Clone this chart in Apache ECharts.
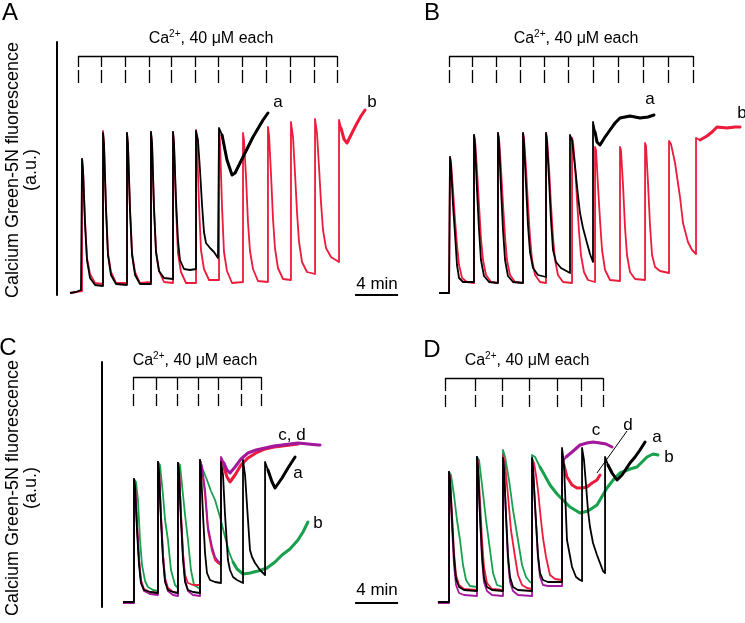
<!DOCTYPE html>
<html><head><meta charset="utf-8">
<script src="https://cdn.jsdelivr.net/npm/echarts/dist/echarts.min.js"></script>
<style>html,body{margin:0;padding:0;background:#fff}#c{width:745px;height:623px}</style>
</head><body><div id="c"></div>
<script>
// ---------- data (time in min, fluorescence in a.u.) ----------
const caTimesA = [1.67, 3.81, 6.05, 8.28, 10.32, 12.56, 14.69, 16.93, 19.16, 21.39, 23.62, 25.76];
const caTimesB = [3.63, 5.77, 8.00, 10.23, 12.46, 14.69, 17.02, 19.34, 21.67, 23.99, 26.32];
const caTimesC = [6.79, 8.93, 10.88, 12.83, 14.69, 16.83, 18.69];
const caTimesD = [3.26, 6.05, 8.56, 11.07, 13.67, 15.90, 17.95];
const scaleBarMinutes = 4;

const A_red = [[0.93,7],[1.49,8],[2.05,9],[2.05,141],[2.14,131],[2.33,79],[2.51,42],[2.79,26],[3.26,17],
[4.00,16],[4.00,169],[4.09,157],[4.28,93],[4.46,47],[4.74,28],[5.21,17],
[6.23,17],[6.23,167],[6.32,155],[6.51,92],[6.70,47],[6.98,28],[7.44,17],
[8.46,18],[8.46,168],[8.56,156],[8.74,93],[8.93,48],[9.21,29],[9.67,18],
[10.51,17],[10.51,168],[10.60,156],[10.79,92],[10.97,47],[11.25,28],[11.72,17],
[12.65,17],[12.65,170],[12.74,158],[12.93,95],[13.11,50],[13.39,31],[13.86,20],
[14.79,20],[14.79,170],[14.88,158],[15.07,93],[15.25,48],[15.53,29],[16.00,17],
[17.02,18],[17.02,167],[17.11,160],[17.30,123],[17.48,78],[17.67,49],[17.95,31],[18.41,19],
[19.34,18],[19.34,173],[19.44,165],[19.62,127],[19.81,81],[20.00,51],[20.27,32],[20.74,21],
[21.48,20],[21.48,178],[21.67,163],[21.86,126],[22.04,88],[22.23,58],[22.51,38],[22.97,28],
[23.72,26],[23.72,181],[23.90,167],[24.09,133],[24.27,98],[24.46,70],[24.74,52],[25.20,43],
[25.95,38],[25.95,180],[26.13,172],[26.41,161],[26.69,157],[27.06,165],[27.53,175],[27.99,184],[28.37,190]];
const A_black = [[0.93,7],[1.49,8],[1.95,10],[2.05,10],[2.05,141],[2.14,130],[2.33,75],[2.51,40],[2.79,22],[3.26,15],
[4.00,14],[4.00,167],[4.09,156],[4.28,90],[4.46,45],[4.74,25],[5.21,16],
[6.23,15],[6.23,167],[6.32,156],[6.51,90],[6.70,45],[6.98,25],[7.44,16],
[8.46,16],[8.46,168],[8.56,157],[8.74,92],[8.93,48],[9.21,29],[9.67,22],
[10.51,21],[10.51,168],[10.60,157],[10.79,100],[10.97,60],[11.16,40],[11.53,31],[12.09,30],
[12.65,31],[12.65,169],[12.83,160],[13.02,130],[13.21,95],[13.39,68],[13.58,57],[13.95,52],[14.32,48],[14.69,42],
[14.79,42],[14.79,172],[15.07,165],[15.53,140],[16.00,125],[16.28,127],[17.02,143],[17.95,163],[18.88,180],[19.34,187]];

const B_red = [[2.70,7],[3.63,7],[3.72,8],[3.72,143],[3.81,138],[4.00,110],[4.19,80],[4.37,55],[4.56,35],[4.84,22],[5.30,18],
[5.95,17],[5.95,165],[6.05,160],[6.23,130],[6.42,95],[6.60,62],[6.79,40],[7.07,25],[7.53,18],
[8.18,17],[8.18,167],[8.28,162],[8.46,132],[8.65,96],[8.84,63],[9.02,40],[9.30,25],[9.77,18],
[10.51,17],[10.51,167],[10.60,162],[10.79,132],[10.97,96],[11.16,63],[11.35,40],[11.63,25],[12.09,18],
[12.65,17],[12.65,167],[12.74,162],[12.93,132],[13.11,96],[13.30,63],[13.49,40],[13.76,25],[14.23,18],
[15.07,17],[15.07,162],[15.16,158],[15.35,135],[15.53,100],[15.72,68],[15.90,45],[16.18,28],[16.55,20],
[17.21,18],[17.21,153],[17.30,150],[17.48,115],[17.67,80],[17.86,50],[18.14,30],[18.60,20],
[19.53,19],[19.53,153],[19.62,150],[19.81,115],[20.00,72],[20.18,45],[20.46,28],[20.93,21],
[21.86,20],[21.86,157],[21.95,154],[22.13,118],[22.32,75],[22.51,45],[22.79,33],[23.25,29],
[24.09,27],[24.09,159],[24.27,156],[24.65,137],[25.11,103],[25.39,77],[25.85,58],[26.23,50],
[26.60,46],[26.60,162],[26.97,160],[27.62,164],[28.09,168],[28.55,173],[29.48,172],[30.23,173],[30.69,173]];
const B_black = [[2.70,7],[3.63,7],[3.72,8],[3.72,143],[3.81,135],[4.00,95],[4.19,65],[4.37,35],[4.56,22],[4.93,18],
[5.95,18],[5.95,165],[6.05,155],[6.23,110],[6.42,70],[6.60,40],[6.88,24],[7.35,18],
[8.18,17],[8.18,167],[8.28,157],[8.46,112],[8.65,70],[8.84,40],[9.11,24],[9.58,18],
[10.51,17],[10.51,167],[10.60,157],[10.79,115],[10.97,75],[11.16,48],[11.44,32],[11.90,25],
[12.65,23],[12.65,167],[12.74,158],[12.93,120],[13.11,80],[13.30,50],[13.58,38],[14.04,32],
[14.88,27],[14.88,165],[15.07,160],[15.35,133],[15.62,105],[15.81,87],[16.09,72],[16.46,57],[16.74,46],
[17.02,38],[17.02,178],[17.21,168],[17.39,158],[17.67,155],[18.14,163],[18.60,170],[19.07,177],[19.53,182],[20.46,184],[21.39,182],[22.13,183],[22.69,185]];

const C_black = [[5.86,13],[6.88,13],[6.88,136],[6.98,128],[7.16,85],[7.35,50],[7.53,32],[7.81,25],[8.37,23],
[9.11,22],[9.11,153],[9.21,143],[9.39,95],[9.58,55],[9.77,33],[10.04,25],[10.51,23],
[10.97,22],[10.97,152],[11.07,142],[11.25,95],[11.44,55],[11.63,33],[11.90,25],[12.37,23],
[13.02,22],[13.02,155],[13.11,145],[13.30,100],[13.49,62],[13.67,42],[13.95,35],[14.42,33],
[14.97,32],[14.97,153],[15.16,140],[15.35,100],[15.62,55],[15.81,45],[16.09,38],[16.46,35],
[17.02,32],[17.02,155],[17.21,140],[17.39,110],[17.67,65],[17.86,58],[18.14,52],[18.60,45],
[19.07,40],[19.07,153],[19.34,145],[19.72,133],[20.00,127],[20.65,137],[21.20,147],[21.86,158]];
const C_red = [[5.86,13],[6.88,13],[6.88,136],[6.98,130],[7.16,92],[7.35,56],[7.53,35],[7.81,26],[8.37,23],
[9.11,22],[9.11,153],[9.21,146],[9.39,100],[9.58,60],[9.77,37],[10.04,27],[10.51,23],
[10.97,22],[10.97,152],[11.07,146],[11.25,102],[11.44,62],[11.63,40],[11.90,32],[12.37,30],
[13.02,30],[13.02,155],[13.21,146],[13.49,120],[13.76,85],[14.14,64],[14.42,55],[14.69,52],
[14.97,50],[14.97,156],[15.25,148],[15.53,138],[15.81,133],[16.28,140],[16.83,150],[17.48,157],[18.23,162],[19.07,166],[19.90,168],[20.65,169],[21.39,170],[22.13,171]];
const C_purple = [[5.86,12],[6.88,12],[6.88,136],[6.98,130],[7.16,90],[7.35,55],[7.53,33],[7.81,24],[8.37,21],
[9.11,20],[9.11,153],[9.21,146],[9.39,100],[9.58,60],[9.77,35],[10.04,24],[10.51,20],
[10.97,19],[10.97,152],[11.07,146],[11.25,100],[11.44,60],[11.63,35],[11.90,24],[12.37,20],
[13.02,19],[13.02,155],[13.21,148],[13.49,125],[13.76,88],[14.14,68],[14.42,58],[14.69,54],
[14.97,52],[14.97,158],[15.25,152],[15.53,145],[15.81,142],[16.28,148],[16.83,156],[17.48,162],[18.23,165],[19.07,167],[19.90,169],[20.65,170],[21.39,171],[22.13,172],[23.06,171],[23.99,170],[24.18,170]];
const C_green = [[5.86,13],[6.88,13],[6.88,136],[7.07,133],[7.25,115],[7.44,75],[7.63,50],[7.91,34],[8.18,28],[8.65,25],
[9.11,24],[9.11,153],[9.30,150],[9.58,120],[9.77,95],[10.04,75],[10.32,45],[10.70,30],
[10.97,27],[10.97,152],[11.16,150],[11.44,120],[11.63,100],[11.90,75],[12.18,45],[12.46,30],
[13.02,26],[13.02,155],[13.30,145],[13.67,135],[14.04,124],[14.42,115],[14.88,98],[15.35,78],[15.72,63],[16.09,53],[16.46,46],[17.02,41],[17.67,42],[18.41,44],[19.25,47],[20.00,53],[20.65,60],[21.39,66],[22.13,75],[22.60,83],[23.06,93]];

const D_black = [[2.60,13],[3.63,13],[3.63,143],[3.72,135],[3.91,95],[4.09,58],[4.28,36],[4.56,28],[5.02,25],
[6.23,24],[6.23,158],[6.32,148],[6.51,100],[6.70,60],[6.88,37],[7.16,28],[7.63,25],
[8.65,24],[8.65,157],[8.74,147],[8.93,100],[9.11,60],[9.30,38],[9.58,28],[10.04,25],
[11.35,24],[11.35,157],[11.44,147],[11.63,110],[11.90,60],[12.09,42],[12.37,35],[12.83,33],
[14.14,33],[14.14,167],[14.32,150],[14.60,75],[15.07,48],[15.44,38],[15.81,35],
[16.00,34],[16.00,167],[16.18,155],[16.37,130],[16.55,105],[16.74,88],[17.02,72],[17.39,60],[17.67,52],[17.95,44],
[18.14,42],[18.14,158],[18.41,150],[18.79,142],[19.25,135],[19.72,140],[20.09,146],[20.46,152],[20.93,158],[21.39,165],[21.86,173]];
const D_red = [[2.60,13],[3.63,13],[3.63,143],[3.72,137],[3.91,100],[4.09,63],[4.28,40],[4.56,30],[5.02,26],
[6.23,25],[6.23,158],[6.32,152],[6.51,115],[6.70,75],[6.88,48],[7.16,32],[7.63,26],
[8.65,25],[8.65,160],[8.84,150],[9.11,120],[9.39,85],[9.77,58],[10.04,40],[10.42,30],[10.88,27],
[11.35,26],[11.35,157],[11.53,152],[11.72,140],[11.90,125],[12.18,95],[12.37,77],[12.65,58],[13.02,40],[13.49,36],
[14.14,35],[14.14,162],[14.32,150],[14.60,138],[15.07,130],[15.53,127],[16.00,127],[16.46,128],[16.93,132],[17.39,135],[17.67,140]];
const D_purple = [[2.60,12],[3.63,12],[3.63,143],[3.72,133],[3.91,88],[4.09,50],[4.28,30],[4.56,22],[5.02,20],
[6.23,19],[6.23,158],[6.32,148],[6.51,98],[6.70,55],[6.88,33],[7.16,24],[7.63,20],
[8.65,19],[8.65,157],[8.74,147],[8.93,98],[9.11,55],[9.30,33],[9.58,24],[10.04,20],
[11.35,19],[11.35,157],[11.44,147],[11.63,108],[11.90,58],[12.09,38],[12.37,30],[12.83,29],
[14.14,29],[14.14,152],[14.51,158],[15.07,163],[15.81,170],[16.46,172],[17.02,173],[17.67,172],[18.23,171],[18.79,168]];
const D_green = [[2.60,13],[3.63,13],[3.63,143],[3.81,140],[4.09,120],[4.37,95],[4.65,75],[4.93,50],[5.21,35],[5.58,29],
[6.23,28],[6.23,158],[6.42,155],[6.70,130],[7.07,95],[7.44,65],[7.72,42],[8.09,30],
[8.65,28],[8.65,165],[8.84,158],[9.21,135],[9.58,105],[10.04,75],[10.42,50],[10.79,38],[11.16,33],
[11.35,32],[11.35,160],[11.63,158],[12.09,148],[12.56,139],[13.02,130],[13.67,121],[14.23,115],[14.88,108],[15.81,102],[16.55,104],[17.39,110],[18.32,127],[18.97,136],[19.53,142],[20.46,146],[21.11,148],[22.04,158],[22.60,161],[23.06,160]];

// ---------- styling ----------
const RED = '#ec1a3b', GREEN = '#18a04c', PURPLE = '#a3189c', BLACK = '#000000';
const FONT = '"Liberation Sans", Arial, Helvetica, sans-serif';

// each trace: thin line for the whole record, plus a wider stroke over the noisy
// late part of the record (style only: the same points, drawn from time tNoisy on)
function trace(data, color, g, tNoisy) {
  const base = { type: 'line', xAxisIndex: g, yAxisIndex: g, symbol: 'none', showSymbol: false,
                 clip: false, emphasis: { disabled: true }, silent: true };
  const out = [Object.assign({}, base, { data, lineStyle: { color, width: 1.8, join: 'round' } })];
  if (tNoisy != null) {
    out.push(Object.assign({}, base, { data: data.filter(p => p[0] >= tNoisy),
      lineStyle: { color, width: 3, join: 'round', cap: 'round' } }));
  }
  return out;
}
function bracket(ca, g, yLine, yTick, yD1, yD2) {
  const d = [{ coords: [[ca[0], yLine], [ca[ca.length - 1], yLine]] }];
  ca.forEach(t => {
    d.push({ coords: [[t, yLine], [t, yTick]] });
    d.push({ coords: [[t, yD1], [t, yD2]] });
  });
  return { type: 'lines', coordinateSystem: 'cartesian2d', xAxisIndex: g, yAxisIndex: g, data: d,
           clip: false, silent: true, lineStyle: { color: '#000', width: 1.3, opacity: 1, curveness: 0 } };
}
function segs(list, g, width) {
  return { type: 'lines', coordinateSystem: 'cartesian2d', xAxisIndex: g, yAxisIndex: g,
           data: list.map(c => ({ coords: c })), clip: false, silent: true,
           lineStyle: { color: '#000', width, opacity: 1, curveness: 0 } };
}
function txt(x, y, text, size, extra) {
  return Object.assign({ type: 'text', x, y, silent: true,
    style: { text, fontSize: size, fontFamily: FONT, fill: '#000', align: 'center', verticalAlign: 'middle' } }, extra || {});
}
function caLabel(x, y) {
  return { type: 'text', x, y, silent: true, style: {
    text: '{n|Ca}{s|2+}{n|, 40 μM each}', align: 'center', verticalAlign: 'middle', fill: '#000',
    rich: { n: { fontSize: 16, fontFamily: FONT, lineHeight: 20, fill: '#000' },
            s: { fontSize: 10, fontFamily: FONT, lineHeight: 12, verticalAlign: 'top', fill: '#000' } } } };
}

const chart = echarts.init(document.getElementById('c'), null, { renderer: 'canvas' });
const yAxisLine = (min, max, offset) => ({ type: 'value', min, max, show: true, offset,
  axisLine: { show: true, onZero: false, lineStyle: { color: '#000', width: 2 } },
  axisTick: { show: false }, axisLabel: { show: false }, splitLine: { show: false } });
const hiddenY = (min, max) => ({ type: 'value', min, max, show: false });
const hiddenX = (max) => ({ type: 'value', min: 0, max, show: false });

chart.setOption({
  animation: false,
  backgroundColor: '#fff',
  grid: [
    { left: 60, top: 42, width: 350, height: 253 },
    { left: 410, top: 42, width: 335, height: 253 },
    { left: 60, top: 362, width: 350, height: 245 },
    { left: 410, top: 362, width: 335, height: 245 }
  ],
  xAxis: [0, 1, 2, 3].map(i => Object.assign(hiddenX(i % 2 ? 31.155 : 32.55), { gridIndex: i })),
  yAxis: [
    Object.assign(yAxisLine(5, 258, 3), { gridIndex: 0 }),
    Object.assign(hiddenY(5, 258), { gridIndex: 1 }),
    Object.assign(yAxisLine(8, 253, -42), { gridIndex: 2 }),
    Object.assign(hiddenY(8, 253), { gridIndex: 3 })
  ],
  series: [].concat(
    trace(A_red, RED, 0, 26.13), trace(A_black, BLACK, 0, 15.07),
    trace(B_red, RED, 1, 26.97), trace(B_black, BLACK, 1, 17.21),
    trace(C_green, GREEN, 2, 16.09), trace(C_red, RED, 2, 15.25), trace(C_purple, PURPLE, 2, 15.25), trace(C_black, BLACK, 2, 19.34),
    trace(D_green, GREEN, 3, 12.09), trace(D_red, RED, 3, 14.32), trace(D_purple, PURPLE, 3, 14.51), trace(D_black, BLACK, 3, 18.41),
    [
      bracket(caTimesA, 0, 244, 233, 230, 217),
      bracket(caTimesB, 1, 244, 233, 230, 217),
      bracket(caTimesC, 2, 238, 225, 221, 209),
      bracket(caTimesD, 3, 237, 224, 220, 208),
      segs([[[27.44, 5], [27.44 + scaleBarMinutes, 5]]], 0, 1.8),
      segs([[[27.44, 12], [27.44 + scaleBarMinutes, 12]]], 2, 1.8),
      segs([[[20.18, 184], [17.39, 142]]], 3, 1)
    ]),
  graphic: [
    txt(10, 13, 'A', 24), txt(432, 13, 'B', 24), txt(8, 348, 'C', 24), txt(432, 350, 'D', 24),
    txt(22.5, 170, 'Calcium Green-5N fluorescence\n(a.u.)', 18, { rotation: Math.PI / 2 }),
    txt(22.5, 488, 'Calcium Green-5N fluorescence\n(a.u.)', 18, { rotation: Math.PI / 2 }),
    caLabel(211, 39), caLabel(576, 39), caLabel(195, 361), caLabel(527, 361),
    txt(377, 284, '4 min', 17), txt(377, 590, '4 min', 17),
    txt(278, 102, 'a', 17), txt(372, 102, 'b', 17),
    txt(650, 99, 'a', 17), txt(742, 113, 'b', 17),
    txt(292, 435, 'c, d', 17), txt(298, 473, 'a', 17), txt(318, 523, 'b', 17),
    txt(596, 430, 'c', 17), txt(628, 425, 'd', 17), txt(657, 437, 'a', 17), txt(669, 457, 'b', 17)
  ]
});
</script>
</body></html>
